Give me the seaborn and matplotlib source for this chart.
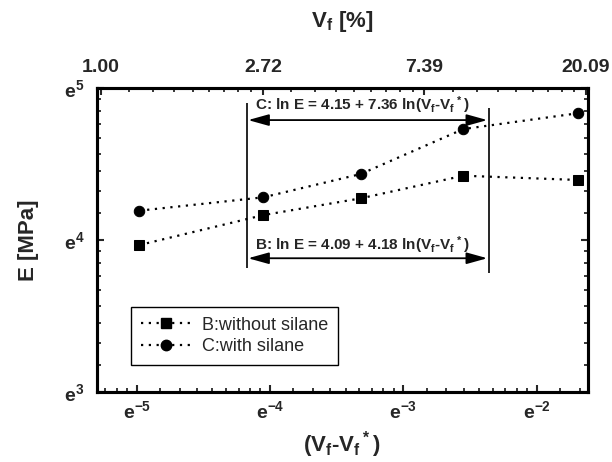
import numpy as np
import pandas as pd
import seaborn as sns
import matplotlib
matplotlib.use('Agg')
import matplotlib.pyplot as plt
from matplotlib.ticker import FixedLocator, FuncFormatter, NullFormatter
from matplotlib.lines import Line2D

# values, stored as natural logs
ln_dv = [-4.98, -4.05, -3.32, -2.55, -1.69]          # ln(Vf - Vf*)
ln_E_B = [3.967, 4.164, 4.274, 4.423, 4.395]         # B: without silane
ln_E_C = [4.193, 4.281, 4.434, 4.730, 4.834]         # C: with silane
series_names = ['B:without silane', 'C:with silane']
top_ticks = [1.00, 2.72, 7.39, 20.09]                # Vf [%]
fit_range = [-4.175, -2.36]                          # ln(Vf - Vf*) range of the fits
fit_C = 'C: ln E = 4.15 + 7.36 ln(V$_f$-V$_f$$^*$)'
fit_B = 'B: ln E = 4.09 + 4.18 ln(V$_f$-V$_f$$^*$)'

sns.set_style('white')
plt.rcParams.update({
    'font.family': ['Liberation Sans', 'DejaVu Sans'],
    'font.weight': 'bold',
    'mathtext.default': 'regular',
    'axes.linewidth': 2.2,
    'axes.edgecolor': 'black',
})


def e_minor(lo, hi):
    # Origin-style minor ticks: evenly spaced in value between e^n and e^(n+1)
    out = []
    for n in range(lo, hi):
        out.extend(np.linspace(np.exp(n), np.exp(n + 1), 10)[1:-1])
    return out


e_fmt = FuncFormatter(lambda v, p: r'$e^{%d}$' % round(np.log(v)))

data = pd.DataFrame({
    'x': np.exp(ln_dv * 2),
    'E': np.exp(ln_E_B + ln_E_C),
    'series': [series_names[0]] * len(ln_dv) + [series_names[1]] * len(ln_dv),
})

fig = plt.figure(figsize=(6.12, 4.62), dpi=100)
ax = fig.add_axes([0.1585, 0.1515, 0.8023, 0.658])
ax.set_xscale('log')
ax.set_yscale('log')

markers = {series_names[0]: 's', series_names[1]: 'o'}
dashes = {series_names[0]: (1, 2.5), series_names[1]: (1, 2.5)}
palette = {series_names[0]: 'black', series_names[1]: 'black'}
sns.lineplot(data=data, x='x', y='E', hue='series', style='series',
             markers=markers, dashes=dashes, palette=palette,
             markersize=7.5, linewidth=1.6, markeredgecolor='black',
             legend=False, ax=ax)

ax.set_xlim(np.exp(-5.298), np.exp(-1.615))
ax.set_ylim(np.exp(3), np.exp(5))

# axis ticks
ax.xaxis.set_major_locator(FixedLocator(np.exp([-5, -4, -3, -2])))
ax.xaxis.set_minor_locator(FixedLocator(e_minor(-6, -1)))
ax.xaxis.set_major_formatter(e_fmt)
ax.xaxis.set_minor_formatter(NullFormatter())
ax.yaxis.set_major_locator(FixedLocator(np.exp([3, 4, 5])))
ax.yaxis.set_minor_locator(FixedLocator(e_minor(3, 5)))
ax.yaxis.set_major_formatter(e_fmt)
ax.yaxis.set_minor_formatter(NullFormatter())
ax.tick_params(which='major', direction='in', length=5, width=1.5, labelsize=14)
ax.tick_params(which='minor', direction='in', length=3, width=1.3)
ax.tick_params(axis='y', which='both', left=True, right=True, pad=9)
ax.tick_params(axis='x', which='both', bottom=True, top=False, pad=6)

ax.set_xlabel('(V$_f$-V$_f$$^*$)', fontsize=16, fontweight='bold', labelpad=5)
ax.set_ylabel('E [MPa]', fontsize=16, fontweight='bold', labelpad=18)

# top axis: Vf [%]
ax2 = ax.twiny()
ax2.set_xscale('log')
ax2.set_xlim(np.exp(-0.025), np.exp(3.012))
ax2.xaxis.set_major_locator(FixedLocator(top_ticks))
ax2.xaxis.set_minor_locator(FixedLocator(e_minor(-1, 4)))
ax2.xaxis.set_major_formatter(FuncFormatter(lambda v, p: '%.2f' % v))
ax2.xaxis.set_minor_formatter(NullFormatter())
ax2.tick_params(which='major', direction='in', length=5, width=1.5, labelsize=14, pad=9)
ax2.tick_params(which='minor', direction='in', length=3, width=1.3)
ax2.set_xlabel('V$_f$ [%]', fontsize=16, fontweight='bold', labelpad=23)
for s in ax2.spines.values():
    s.set_linewidth(2.2)

# fit ranges and equations
ax.vlines(np.exp(fit_range[0]), np.exp(3.814), np.exp(4.899), color='black', lw=1.2)
ax.vlines(np.exp(fit_range[1]), np.exp(3.783), np.exp(4.868), color='black', lw=1.2)
arrow = dict(arrowstyle='<|-|>,head_length=0.9,head_width=0.25', color='black',
             lw=1.3, shrinkA=1, shrinkB=1, mutation_scale=14)
ax.annotate('', xy=(np.exp(fit_range[0]), np.exp(4.789)),
            xytext=(np.exp(fit_range[1]), np.exp(4.789)), arrowprops=arrow)
ax.annotate('', xy=(np.exp(fit_range[0]), np.exp(3.880)),
            xytext=(np.exp(fit_range[1]), np.exp(3.880)), arrowprops=arrow)
ax.text(np.exp(-3.305), np.exp(4.888), fit_C, ha='center', va='center', fontsize=11)
ax.text(np.exp(-3.305), np.exp(3.967), fit_B, ha='center', va='center', fontsize=11)

# legend
handles = [Line2D([], [], color='black', lw=1.6, dashes=(1, 2.5), marker=markers[n],
                  markersize=7.5, markeredgecolor='black') for n in series_names]
leg = ax.legend(handles, series_names, loc='lower left', bbox_to_anchor=(0.0686, 0.0888),
                borderaxespad=0, frameon=True, fancybox=False, edgecolor='black',
                framealpha=1, prop={'weight': 'normal', 'size': 13},
                handlelength=2.8, handletextpad=0.6, borderpad=0.55, labelspacing=0.25)
leg.get_frame().set_linewidth(1.0)

fig.savefig('out.png', dpi=100)
